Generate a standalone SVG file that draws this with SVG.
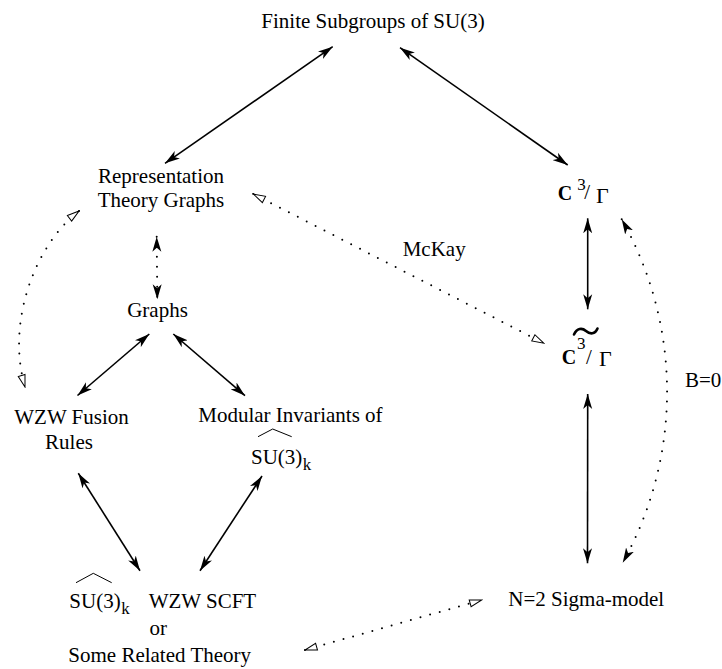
<svg xmlns="http://www.w3.org/2000/svg" width="722" height="669" viewBox="0 0 722 669">
<style>
text{font-family:"Liberation Serif","Times New Roman",serif;font-size:21px;fill:#000}
.m{text-anchor:middle}
.sub{font-size:17px}
.bb{font-weight:bold;font-size:20px}
.solid{fill:none;stroke:#000;stroke-width:1.6;marker-start:url(#fh);marker-end:url(#fh)}
.dotf{fill:none;stroke:#000;stroke-width:2;stroke-linecap:round;stroke-dasharray:0 10;marker-start:url(#fh);marker-end:url(#fh)}
.doth{fill:none;stroke:#000;stroke-width:2;stroke-linecap:round;stroke-dasharray:0 10;marker-start:url(#oh);marker-end:url(#oh)}
.hat{fill:none;stroke:#000;stroke-width:1}
.tilde{fill:none;stroke:#000;stroke-width:2.6;stroke-linecap:round}
</style>
<defs>
<marker id="fh" markerUnits="userSpaceOnUse" markerWidth="16" markerHeight="10" refX="15" refY="5" orient="auto-start-reverse">
<path d="M15,5 L0,0.5 L4,5 L0,9.5 Z" fill="#000"/>
</marker>
<marker id="oh" markerUnits="userSpaceOnUse" markerWidth="14" markerHeight="10" refX="13" refY="5" orient="auto-start-reverse">
<path d="M13,5 L1,1.5 L1,8.5 Z" fill="#fff" stroke="#000" stroke-width="1"/>
</marker>
</defs>
<rect width="722" height="669" fill="#fff"/>
<g id="connectors">
<path class="solid" d="M332.7,46.7 L165,163.3"/>
<path class="solid" d="M400,47.7 L567.7,165"/>
<path class="solid" d="M587.7,218.3 L587.7,309.3"/>
<path class="solid" d="M587.7,394 L587.5,563.3"/>
<path class="dotf" d="M621.7,219.3 A351,351 0 0 1 622.7,562.7"/>
<path class="doth" d="M253.3,194 L544,343.3"/>
<path class="doth" d="M79,211 C35,245 6,322 25,387"/>
<path class="dotf" d="M156.7,236.7 L157.3,299.3"/>
<path class="solid" d="M149.3,334 L77.5,395.5"/>
<path class="solid" d="M173.3,334 L245,395.7"/>
<path class="solid" d="M78.3,473.3 L140,570.7"/>
<path class="solid" d="M262,476 L200,570.7"/>
<path class="doth" d="M305,650 L481.7,600"/>
</g>
<g id="finite"><text class="m" x="373" y="28">Finite Subgroups of SU(3)</text></g>
<g id="reptheory"><text class="m" x="161" y="183">Representation</text><text class="m" x="161" y="207">Theory Graphs</text></g>
<g id="graphs"><text class="m" x="157.5" y="317">Graphs</text></g>
<g id="fusion"><text class="m" x="71.5" y="424">WZW Fusion</text><text class="m" x="69" y="449">Rules</text></g>
<g id="modular"><text x="198.3" y="422">Modular Invariants of</text>
<polyline class="hat" points="258,436.7 272.7,429 291.7,436.7"/>
<text x="251" y="464">SU(3)<tspan class="sub" dx="0.5" dy="6">k</tspan></text></g>
<g id="scft"><polyline class="hat" points="76,582.7 93.3,573.3 111.7,582.7"/>
<text x="69.3" y="608">SU(3)<tspan class="sub" dx="0.5" dy="6">k</tspan><tspan dx="19" dy="-6">WZW SCFT</tspan></text>
<text class="m" x="158.3" y="635">or</text>
<text x="68.3" y="662">Some Related Theory</text></g>
<g id="c3gamma"><text x="557.7" y="199.5"><tspan class="bb">C</tspan><tspan class="sub" dx="5" dy="-9.5">3</tspan><tspan dx="-1.5" dy="9">/</tspan><tspan dx="6" dy="3.5" style="font-size:22px">Γ</tspan></text></g>
<g id="c3tilde"><path class="tilde" d="M574,334.5 C577,328 582,327.5 586,331 C590,334.5 595,334.5 597.5,328.5"/>
<text x="561.7" y="364"><tspan class="bb">C</tspan><tspan class="sub" dx="0.8" dy="-15">3</tspan><tspan dx="0.5" dy="15">/</tspan><tspan dx="7.2" dy="2" style="font-size:22px">Γ</tspan></text></g>
<g id="sigma"><text x="508.3" y="606">N=2 Sigma-model</text></g>
<g id="labels"><text x="402.7" y="256">McKay</text><text x="685" y="387">B=0</text></g>
</svg>
